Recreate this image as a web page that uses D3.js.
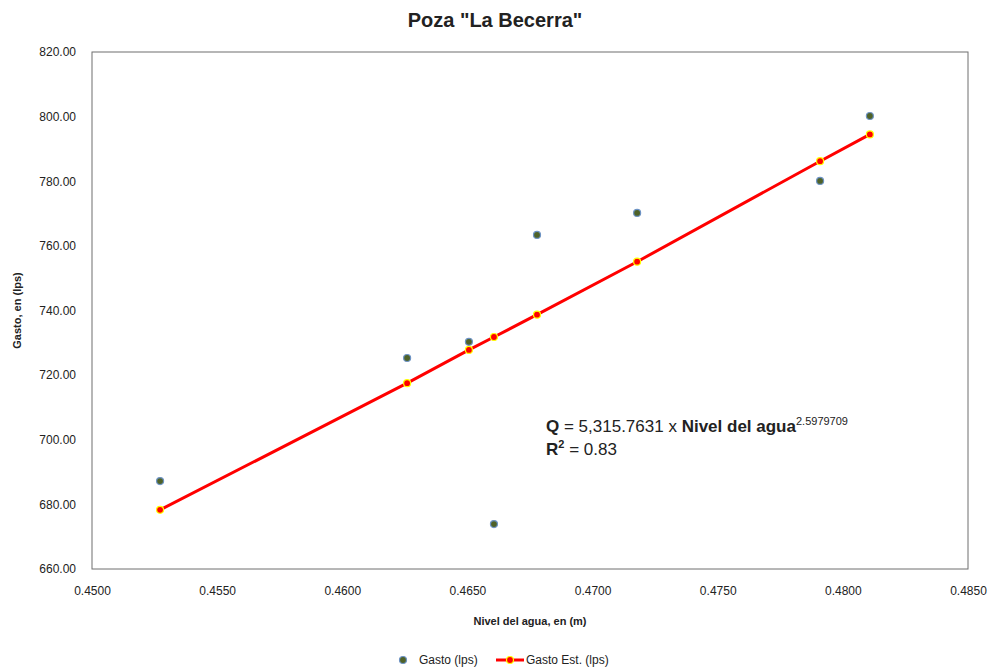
<!DOCTYPE html>
<html>
<head>
<meta charset="utf-8">
<script src="https://cdn.jsdelivr.net/npm/d3@7"></script>
<style>
  body { margin: 0; background: #fff; }
  text { font-family: "Liberation Sans", Arial, sans-serif; fill: #222; }
</style>
</head>
<body>
<div class="chart"></div>
<script>
// observed flow vs water level
var nivel = [0.45272, 0.46259, 0.46506, 0.46606, 0.46778, 0.47178, 0.47909, 0.48108];
var gasto = [687.2, 725.3, 730.3, 673.9, 763.4, 770.2, 780.1, 800.2];
var gastoEst = [678.3, 717.5, 727.8, 731.8, 738.7, 755.1, 786.2, 794.5];
var xTicks = [0.45, 0.455, 0.46, 0.465, 0.47, 0.475, 0.48, 0.485];
var yTicks = [660, 680, 700, 720, 740, 760, 780, 800, 820];

var margin = { top: 52, right: 21, bottom: 101, left: 92 };
var width = 989 - margin.left - margin.right;
var height = 670 - margin.top - margin.bottom;

var x = d3.scaleLinear().domain([0.45, 0.485]).range([0, width]);
var y = d3.scaleLinear().domain([660, 820]).range([height, 0]);

var svg = d3.select('.chart')
    .append('svg')
    .attr('width', 989)
    .attr('height', 670);

svg.append('text')
    .attr('x', 495).attr('y', 27)
    .attr('text-anchor', 'middle')
    .style('font-size', '20px').style('font-weight', 'bold')
    .text('Poza "La Becerra"');

var canvas = svg.append('g')
    .attr('transform', `translate(${margin.left},${margin.top})`);

canvas.append('rect')
    .attr('width', width).attr('height', height)
    .attr('fill', 'none').attr('stroke', '#6f6f6f');

// axes, no tick marks, just labels
var xAxis = d3.axisBottom(x).tickValues(xTicks).tickSize(0).tickPadding(17)
    .tickFormat(d3.format('.4f'));
var yAxis = d3.axisLeft(y).tickValues(yTicks).tickSize(0).tickPadding(16)
    .tickFormat(d3.format('.2f'));

canvas.append('g')
    .attr('transform', `translate(0, ${height})`)
    .call(xAxis)
    .call(g => g.select('.domain').remove())
    .selectAll('text').style('font-size', '12px').attr('fill', '#222');

canvas.append('g')
    .call(yAxis)
    .call(g => g.select('.domain').remove())
    .selectAll('text').style('font-size', '12px').attr('fill', '#222');

svg.append('text')
    .attr('x', margin.left + width / 2).attr('y', 625)
    .attr('text-anchor', 'middle')
    .style('font-size', '11px').style('font-weight', 'bold')
    .text('Nivel del agua, en (m)');

svg.append('text')
    .attr('transform', `translate(21, ${margin.top + height / 2}) rotate(-90)`)
    .attr('text-anchor', 'middle')
    .style('font-size', '11px').style('font-weight', 'bold')
    .text('Gasto, en (lps)');

// fitted line
var line = d3.line()
    .x((d, i) => x(nivel[i]))
    .y(d => y(d));

canvas.append('path')
    .datum(gastoEst)
    .attr('d', line)
    .attr('fill', 'none')
    .attr('stroke', '#ff0000')
    .attr('stroke-width', 3);

canvas.selectAll('circle.est')
    .data(gastoEst)
    .enter()
    .append('circle')
    .attr('class', 'est')
    .attr('cx', (d, i) => x(nivel[i]))
    .attr('cy', d => y(d))
    .attr('r', 3.5)
    .attr('fill', '#ff0000')
    .attr('stroke', '#ffff00')
    .attr('stroke-width', 1.2);

canvas.selectAll('circle.obs')
    .data(gasto)
    .enter()
    .append('circle')
    .attr('class', 'obs')
    .attr('cx', (d, i) => x(nivel[i]))
    .attr('cy', d => y(d))
    .attr('r', 3.5)
    .attr('fill', '#4f6228')
    .attr('stroke', '#6d93c4')
    .attr('stroke-width', 1.2);

// equation
var eq = svg.append('text')
    .attr('x', 546).attr('y', 432)
    .style('font-size', '17px');
eq.append('tspan').style('font-weight', 'bold').text('Q');
eq.append('tspan').text(' = 5,315.7631 x ');
eq.append('tspan').style('font-weight', 'bold').text('Nivel del agua');
eq.append('tspan').attr('dy', -7).style('font-size', '11px').text('2.5979709');

var r2 = svg.append('text')
    .attr('x', 546).attr('y', 455)
    .style('font-size', '17px');
r2.append('tspan').style('font-weight', 'bold').text('R');
r2.append('tspan').attr('dy', -7).style('font-size', '11px').style('font-weight', 'bold').text('2');
r2.append('tspan').attr('dy', 7).text(' = 0.83');

// legend
var leg = svg.append('g').attr('transform', 'translate(0, 660)');
leg.append('circle').attr('cx', 403).attr('cy', 0).attr('r', 3.5)
    .attr('fill', '#4f6228').attr('stroke', '#6d93c4').attr('stroke-width', 1.2);
leg.append('text').attr('x', 419).attr('y', 4).style('font-size', '12px').text('Gasto (lps)');
leg.append('line').attr('x1', 496).attr('x2', 524).attr('y1', 0).attr('y2', 0)
    .attr('stroke', '#ff0000').attr('stroke-width', 3);
leg.append('circle').attr('cx', 510).attr('cy', 0).attr('r', 3.5)
    .attr('fill', '#ff0000').attr('stroke', '#ffff00').attr('stroke-width', 1.2);
leg.append('text').attr('x', 526).attr('y', 4).style('font-size', '12px').text('Gasto Est. (lps)');
</script>
</body>
</html>
